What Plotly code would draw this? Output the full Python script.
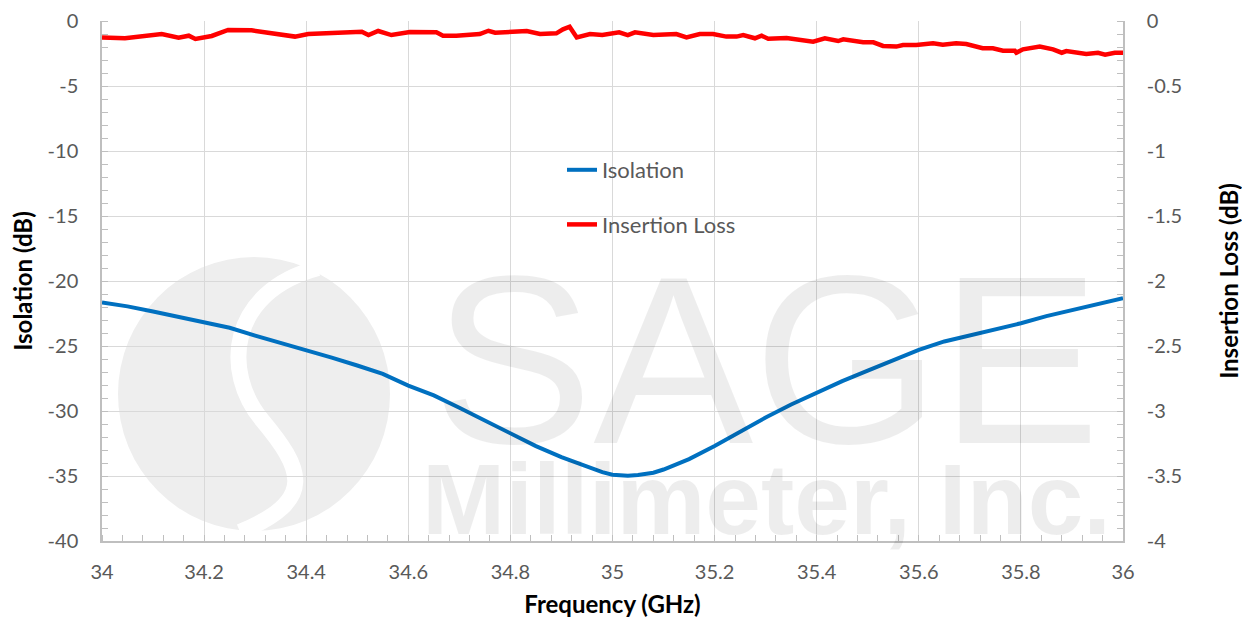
import plotly.graph_objects as go

# ---------------- data ----------------
iso_freq = [34.00, 34.05, 34.10, 34.15, 34.20, 34.25, 34.30, 34.35, 34.40, 34.45,
            34.50, 34.55, 34.60, 34.65, 34.70, 34.75, 34.80, 34.85, 34.90, 34.93,
            34.95, 34.98, 35.00, 35.03, 35.05, 35.08, 35.10, 35.15, 35.20, 35.25,
            35.30, 35.35, 35.40, 35.45, 35.50, 35.55, 35.60, 35.65, 35.70, 35.75,
            35.80, 35.85, 35.90, 35.95, 36.00]
isolation = [-21.65, -21.95, -22.35, -22.75, -23.2, -23.6, -24.2, -24.75, -25.3, -25.9,
             -26.5, -27.15, -28.05, -28.8, -29.75, -30.75, -31.7, -32.7, -33.55, -34.0,
             -34.3, -34.7, -34.9, -34.98, -34.93, -34.75, -34.5, -33.7, -32.7, -31.6,
             -30.5, -29.5, -28.6, -27.7, -26.9, -26.1, -25.3, -24.65, -24.2, -23.7,
             -23.25, -22.7, -22.25, -21.8, -21.33]

il_freq = [34.000, 34.045, 34.117, 34.150, 34.170, 34.183, 34.215, 34.247, 34.293, 34.326,
           34.378, 34.404, 34.476, 34.509, 34.522, 34.541, 34.567, 34.603, 34.655, 34.668,
           34.694, 34.740, 34.757, 34.770, 34.832, 34.858, 34.890, 34.903, 34.916, 34.930,
           34.956, 34.980, 35.013, 35.030, 35.044, 35.080, 35.125, 35.145, 35.171, 35.197,
           35.223, 35.243, 35.256, 35.279, 35.292, 35.305, 35.341, 35.367, 35.393, 35.416,
           35.442, 35.452, 35.491, 35.511, 35.530, 35.556, 35.569, 35.595, 35.628, 35.647,
           35.673, 35.693, 35.725, 35.745, 35.765, 35.788, 35.791, 35.804, 35.837, 35.863,
           35.880, 35.889, 35.928, 35.951, 35.965, 35.984, 36.000]
insertion_loss = [-0.126, -0.133, -0.100, -0.128, -0.113, -0.138, -0.115, -0.069, -0.072, -0.090,
                  -0.120, -0.100, -0.087, -0.082, -0.108, -0.077, -0.108, -0.084, -0.087, -0.113,
                  -0.113, -0.100, -0.075, -0.090, -0.077, -0.100, -0.095, -0.064, -0.044, -0.126,
                  -0.100, -0.108, -0.087, -0.108, -0.087, -0.108, -0.100, -0.126, -0.100, -0.100,
                  -0.120, -0.120, -0.108, -0.133, -0.113, -0.136, -0.131, -0.146, -0.159, -0.133,
                  -0.154, -0.141, -0.164, -0.164, -0.192, -0.197, -0.185, -0.185, -0.172, -0.182,
                  -0.172, -0.177, -0.210, -0.210, -0.228, -0.228, -0.244, -0.218, -0.197, -0.218,
                  -0.244, -0.231, -0.254, -0.244, -0.259, -0.244, -0.244]

x_ticks = [34.0, 34.2, 34.4, 34.6, 34.8, 35.0, 35.2, 35.4, 35.6, 35.8, 36.0]
x_tick_labels = ["34", "34.2", "34.4", "34.6", "34.8", "35", "35.2", "35.4", "35.6", "35.8", "36"]
y1_ticks = [0, -5, -10, -15, -20, -25, -30, -35, -40]
y1_tick_labels = ["0", "-5", "-10", "-15", "-20", "-25", "-30", "-35", "-40"]
y2_ticks = [0, -0.5, -1, -1.5, -2, -2.5, -3, -3.5, -4]
y2_tick_labels = ["0", "-0.5", "-1", "-1.5", "-2", "-2.5", "-3", "-3.5", "-4"]

# ---------------- figure ----------------
FONT = "Lato, 'Open Sans', sans-serif"
TICK_COLOR = "#595959"
GRID = "#d9d9d9"
AXLINE = "#bfbfbf"

# page body has an 8px margin -> figure is 8px smaller than the window
BODY = 8
FIG_W, FIG_H = 1250 - BODY, 618 - BODY
L, T, W, H = 102, 21, 1021, 520   # plot area in window pixels

fig = go.Figure()
fig.add_trace(go.Scatter(x=iso_freq, y=isolation, name="Isolation", mode="lines",
                         line=dict(color="#0070c0", width=4), legendgroup="a",
                         yaxis="y"))
fig.add_trace(go.Scatter(x=il_freq, y=insertion_loss, name="Insertion Loss", mode="lines",
                         line=dict(color="#ff0000", width=4.5), legendgroup="b",
                         yaxis="y2"))


def px(x):
    return (x - L) / W


def py(y):
    return (T + H - y) / H


# watermark logo (circle with S-shaped white band)
fig.add_shape(type="circle", xref="paper", yref="paper",
              x0=px(118), x1=px(390), y0=py(531), y1=py(257),
              fillcolor="#eeeeee", line=dict(width=0), layer="below")
s_path = "M {a},{b} C {c},{d} {e},{f} {g},{h} S {i},{j} {k},{l}".format(
    a=px(318), b=py(268), c=px(228), d=py(292), e=px(222), f=py(372),
    g=px(262), h=py(420), i=px(318), j=py(500), k=px(240), l=py(532))
fig.add_shape(type="path", xref="paper", yref="paper", path=s_path,
              line=dict(color="white", width=16), layer="below")

# watermark company name (one text block, two sizes)
fig.add_annotation(
    text="<span style='font-size:240px'>SAGE</span><br>"
         "<b><span style='font-size:100px'>Millimeter, Inc.</span></b>",
    xref="paper", yref="paper", x=px(766), y=py(557), showarrow=False,
    font=dict(family="Liberation Sans, Arial", size=70, color="rgba(0,0,0,0.07)"))

fig.update_layout(
    width=FIG_W, height=FIG_H,
    margin=dict(l=L - BODY, r=1250 - L - W, t=T - BODY, b=618 - T - H),
    paper_bgcolor="white", plot_bgcolor="white",
    font=dict(family=FONT, size=20, color=TICK_COLOR),
    showlegend=True,
    legend=dict(x=px(562), y=py(149), xanchor="left", yanchor="top",
                bgcolor="rgba(0,0,0,0)", font=dict(size=22, color=TICK_COLOR),
                tracegroupgap=23, traceorder="grouped"),
    xaxis=dict(range=[34, 36], tickvals=x_ticks, ticktext=x_tick_labels,
               showgrid=True, gridcolor=GRID, gridwidth=1.3,
               showline=True, linecolor=AXLINE, linewidth=1.5, zeroline=False,
               ticks="", ticklabelstandoff=12, automargin=False,
               minor=dict(dtick=0.04, tick0=34, ticks="inside", ticklen=6,
                          tickcolor=AXLINE, tickwidth=1.3, showgrid=False),
               tickfont=dict(size=20, color=TICK_COLOR),
               title=dict(text="<b>Frequency (GHz)</b>", standoff=14,
                          font=dict(size=24, color="black"))),
    yaxis=dict(range=[-40, 0], tickvals=y1_ticks, ticktext=y1_tick_labels,
               showgrid=True, gridcolor=GRID, gridwidth=1.3,
               showline=True, linecolor=AXLINE, linewidth=1.5, zeroline=False,
               ticks="", ticklabelstandoff=18, automargin=False,
               minor=dict(dtick=1, tick0=0, ticks="inside", ticklen=6,
                          tickcolor=AXLINE, tickwidth=1.3, showgrid=False),
               tickfont=dict(size=20, color=TICK_COLOR),
               title=dict(text="<b>Isolation (dB)</b>", standoff=12,
                          font=dict(size=24, color="black"))),
    yaxis2=dict(range=[-4, 0], tickvals=y2_ticks, ticktext=y2_tick_labels,
                overlaying="y", side="right", showgrid=False,
                showline=True, linecolor=AXLINE, linewidth=1.5, zeroline=False,
                ticks="", ticklabelstandoff=18, automargin=False,
                minor=dict(dtick=0.1, tick0=0, ticks="inside", ticklen=6,
                           tickcolor=AXLINE, tickwidth=1.3, showgrid=False),
                tickfont=dict(size=20, color=TICK_COLOR),
                title=dict(text="<b>Insertion Loss (dB)</b>", standoff=40,
                           font=dict(size=24, color="black"))),
)

fig.write_html("out.html")
